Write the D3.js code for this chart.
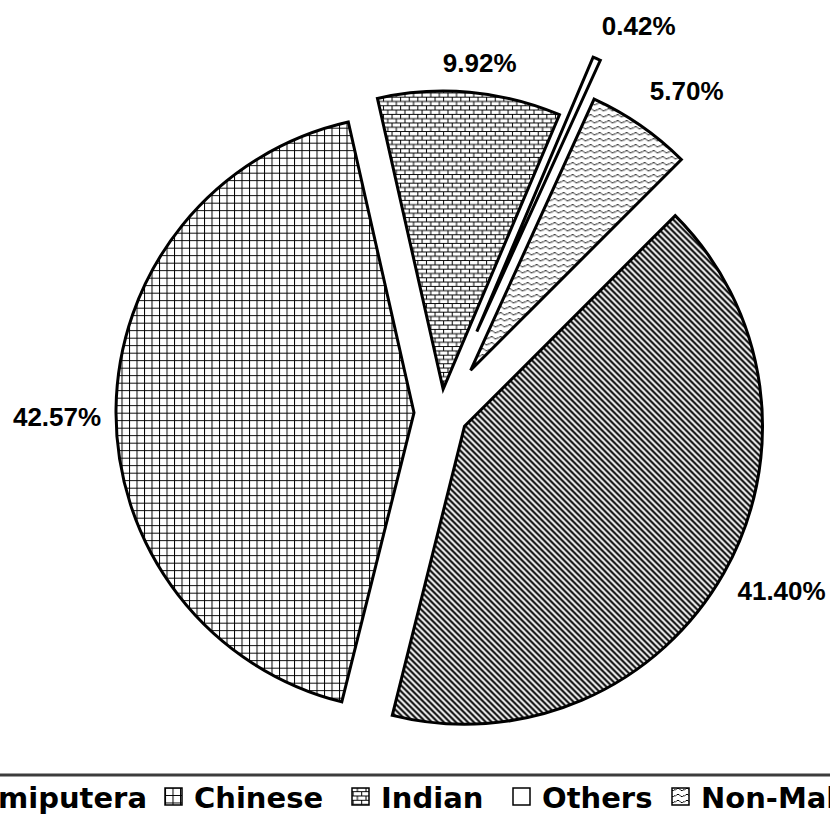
<!DOCTYPE html>
<html><head><meta charset="utf-8">
<script src="https://cdn.jsdelivr.net/npm/d3@7/dist/d3.min.js"></script>
<style>body{margin:0;background:#fff}svg{display:block}</style>
</head><body>
<svg id="chart" width="830" height="827"></svg>
<script>
// ---- data ----
const categories = ["Bumiputera", "Chinese", "Indian", "Others", "Non-Malaysian"];
const values = [41.40, 42.57, 9.92, 0.42, 5.70];
const valueLabels = ["41.40%", "42.57%", "9.92%", "0.42%", "5.70%"];

// ---- style ----
const patterns = ["diag", "grid", "brick", "none", "wave"];
const explode = [27, 27, 24, 89, 52];
const labelAngleNudge = [-2.0, -1.15, 1.2, 3.3, 2.6];
const labelDist = [384, 384, 352, 435, 405];
const legendSwatchX = [null, 165, 352, 513, 672];

const W = 830, H = 827;
const cx = 441, cy = 413, R = 298;
const svg = d3.select("#chart");
const defs = svg.append("defs");

// patterns
const pGrid = defs.append("pattern").attr("id", "grid").attr("patternUnits", "userSpaceOnUse")
  .attr("width", 7.5).attr("height", 7.5);
pGrid.append("rect").attr("width", 7.5).attr("height", 7.5).attr("fill", "#fff");
pGrid.append("path").attr("d", "M0.5,0V7.5M0,0.5H7.5").attr("stroke", "#000").attr("stroke-width", 1);

const pDiag = defs.append("pattern").attr("id", "diag").attr("patternUnits", "userSpaceOnUse")
  .attr("width", 6).attr("height", 6);
pDiag.append("rect").attr("width", 6).attr("height", 6).attr("fill", "#fff");
pDiag.append("path").attr("d", "M0,0L3,0L6,3L6,6ZM0,3L3,6L0,6Z").attr("fill", "#000");

const pBrick = defs.append("pattern").attr("id", "brick").attr("patternUnits", "userSpaceOnUse")
  .attr("width", 8.6).attr("height", 8.6);
pBrick.append("rect").attr("width", 8.6).attr("height", 8.6).attr("fill", "#fff");
pBrick.append("path").attr("d", "M0,0.5H8.6M0,4.8H8.6M0.5,0.5V4.8M4.8,4.8V8.6")
  .attr("stroke", "#000").attr("stroke-width", 1).attr("fill", "none");

const pWave = defs.append("pattern").attr("id", "wave").attr("patternUnits", "userSpaceOnUse")
  .attr("width", 9).attr("height", 6);
pWave.append("rect").attr("width", 9).attr("height", 6).attr("fill", "#fff");
pWave.append("path").attr("d", "M0,4.5L2,2.5L4,2.5L6,4.5L7.5,4.5L9,3.5")
  .attr("stroke", "#000").attr("stroke-width", 1).attr("fill", "none");

const fillFor = i => patterns[i] === "none" ? "#fff" : `url(#${patterns[i]})`;

// pie
const pie = d3.pie().sort(null).value(d => d).startAngle(Math.PI / 4).endAngle(Math.PI / 4 + 2 * Math.PI);
const arcs = pie(values);
const arc = d3.arc().innerRadius(0).outerRadius(R);

const g = svg.append("g").attr("transform", `translate(${cx},${cy})`);
g.selectAll("path.slice").data(arcs).join("path")
  .attr("class", "slice")
  .attr("d", arc)
  .attr("transform", (d, i) => {
    const m = (d.startAngle + d.endAngle) / 2;
    return `translate(${Math.sin(m) * explode[i]},${-Math.cos(m) * explode[i]})`;
  })
  .attr("fill", (d, i) => fillFor(i))
  .attr("stroke", "#000").attr("stroke-width", 3).attr("stroke-linejoin", "miter");

// labels
const labelFont = "'Liberation Sans', Arial, sans-serif";
g.selectAll("text.lbl").data(arcs).join("text")
  .attr("class", "lbl")
  .attr("x", (d, i) => {
    const m = (d.startAngle + d.endAngle) / 2 + labelAngleNudge[i] * Math.PI / 180;
    return Math.sin(m) * labelDist[i];
  })
  .attr("y", (d, i) => {
    const m = (d.startAngle + d.endAngle) / 2 + labelAngleNudge[i] * Math.PI / 180;
    return -Math.cos(m) * labelDist[i] + 9.3;
  })
  .attr("text-anchor", "middle")
  .attr("font-family", labelFont).attr("font-weight", "bold").attr("font-size", 26)
  .attr("fill", "#000")
  .text((d, i) => valueLabels[i]);

// legend top rule
svg.append("line").attr("x1", 0).attr("x2", W).attr("y1", 775).attr("y2", 775)
  .attr("stroke", "#3c3c3c").attr("stroke-width", 3);

// legend
const legendFont = "'DejaVu Sans', sans-serif";
const sw = 17, gapIn = 12, gapOut = 18;
const leg = svg.append("g");
const items = leg.selectAll("g.item").data(categories).join("g").attr("class", "item");
items.append("rect").attr("width", sw).attr("height", sw).attr("y", 788)
  .attr("fill", (d, i) => fillFor(i)).attr("stroke", "#000").attr("stroke-width", 1.5);
items.append("text").attr("y", 808)
  .attr("font-family", legendFont).attr("font-weight", "bold").attr("font-size", 29)
  .attr("fill", "#000").text(d => d);
items.each(function (d, i) {
  const sel = d3.select(this);
  const tw = sel.select("text").node().getComputedTextLength();
  const sx = legendSwatchX[i] != null ? legendSwatchX[i] : legendSwatchX[1] - gapOut - tw - gapIn - sw;
  sel.select("rect").attr("x", sx);
  sel.select("text").attr("x", sx + sw + gapIn);
});
</script>
</body></html>
